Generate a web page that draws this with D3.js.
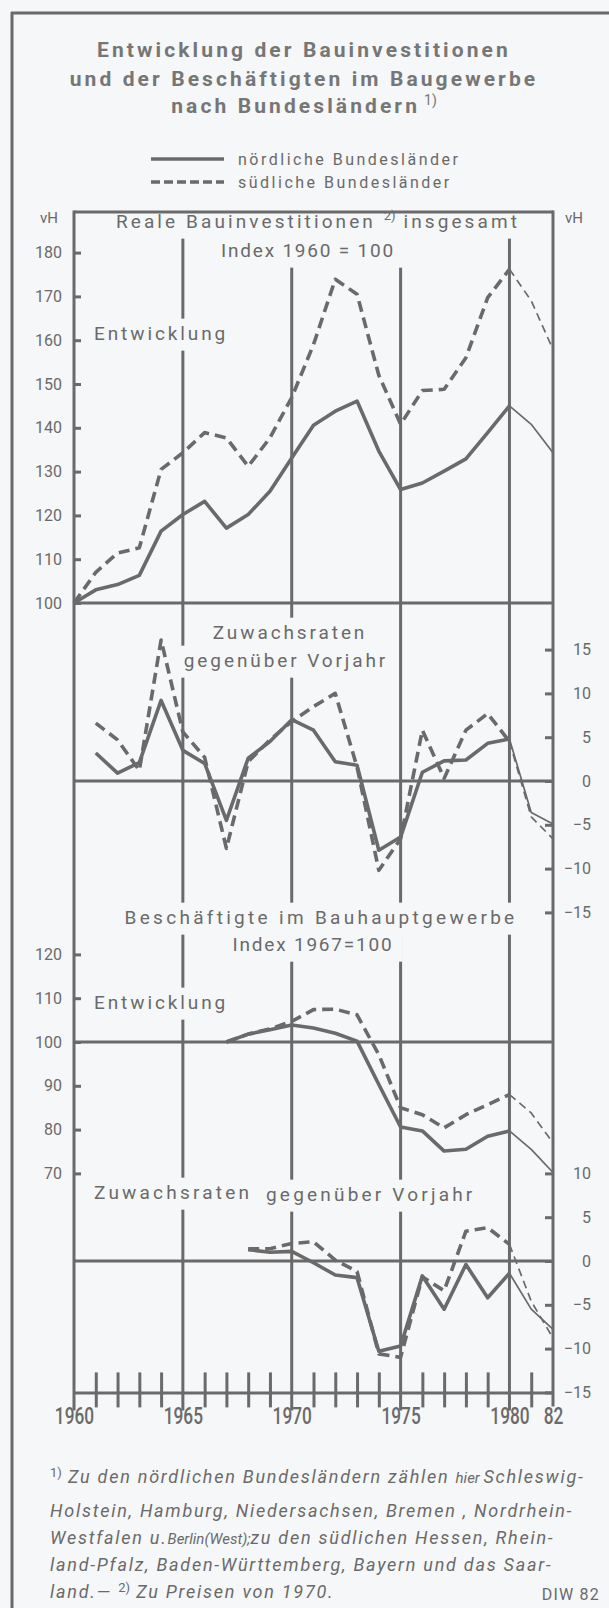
<!DOCTYPE html>
<html>
<head>
<meta charset="utf-8">
<script src="https://cdn.jsdelivr.net/npm/d3@7"></script>
<style>
body { margin: 0; background: #f6f7f8; }
svg { display: block; }
text { fill: #6a6a6a; font-family: Roboto, "Liberation Sans", sans-serif; }
</style>
</head>
<body>
<svg></svg>
<script>
// Reale Bauinvestitionen, Index 1960 = 100
var invYears = [1960, 1961, 1962, 1963, 1964, 1965, 1966, 1967, 1968, 1969, 1970, 1971,
                1972, 1973, 1974, 1975, 1976, 1977, 1978, 1979, 1980, 1981, 1982]
var invNord = [100, 103.0, 104.2, 106.3, 116.4, 120.2, 123.2, 117.1, 120.2, 125.5, 133.1, 140.6,
               143.8, 146.1, 134.7, 125.9, 127.4, 130.1, 132.9, 138.9, 145.0, 140.8, 134.3]
var invSued = [100, 107.0, 111.4, 112.6, 130.5, 134.3, 138.9, 137.7, 131.2, 137.7, 146.9, 159.0,
               173.9, 170.5, 152.0, 140.8, 148.5, 148.8, 156.0, 169.7, 176.2, 169.0, 157.9]

// Zuwachsraten gegenueber Vorjahr (Bauinvestitionen)
var invZuwYears = [1961, 1962, 1963, 1964, 1965, 1966, 1967, 1968, 1969, 1970, 1971,
                   1972, 1973, 1974, 1975, 1976, 1977, 1978, 1979, 1980, 1981, 1982]
var invZuwNord = [3.2, 0.9, 2.1, 9.2, 3.5, 2.0, -4.5, 2.6, 4.5, 7.0, 5.8,
                  2.2, 1.8, -7.9, -6.4, 1.0, 2.3, 2.4, 4.3, 4.8, -3.6, -4.9]
var invZuwSued = [6.6, 4.7, 1.2, 16.1, 5.6, 2.7, -7.7, 2.2, 4.7, 6.8, 8.5,
                  10.0, 1.6, -10.2, -6.6, 5.8, 0.3, 5.8, 7.7, 4.5, -4.1, -6.6]

// Beschaeftigte im Bauhauptgewerbe, Index 1967 = 100
var empYears = [1967, 1968, 1969, 1970, 1971, 1972, 1973, 1974, 1975, 1976, 1977, 1978, 1979, 1980, 1981, 1982]
var empNord = [100, 101.8, 102.8, 103.9, 103.2, 102.0, 100.2, 90.3, 80.6, 79.7, 75.1, 75.5, 78.5, 79.7, 75.5, 70.2]
var empSued = [100, 101.8, 103.0, 104.7, 107.4, 107.5, 106.2, 97.1, 85.0, 83.4, 80.4, 83.4, 85.7, 88.0, 83.8, 77.0]

// Zuwachsraten gegenueber Vorjahr (Beschaeftigte)
var empZuwYears = [1968, 1969, 1970, 1971, 1972, 1973, 1974, 1975, 1976, 1977, 1978, 1979, 1980, 1981, 1982]
var empZuwNord = [1.3, 1.0, 1.1, -0.2, -1.6, -1.9, -10.3, -9.7, -1.7, -5.5, -0.4, -4.2, -1.4, -5.5, -7.8]
var empZuwSued = [1.4, 1.4, 2.0, 2.2, 0.1, -1.2, -10.6, -11.0, -1.8, -3.4, 3.4, 3.8, 1.9, -4.6, -8.8]

// Achsen
var allYears = [1960, 1961, 1962, 1963, 1964, 1965, 1966, 1967, 1968, 1969, 1970, 1971,
                1972, 1973, 1974, 1975, 1976, 1977, 1978, 1979, 1980, 1981, 1982]
var gridYears = [1965, 1970, 1975, 1980]
var yearLabels = {1960: "1960", 1965: "1965", 1970: "1970", 1975: "1975", 1980: "1980", 1982: "82"}
var invTicks = [100, 110, 120, 130, 140, 150, 160, 170, 180]
var invZuwTicks = [-15, -10, -5, 0, 5, 10, 15]
var empTicks = [70, 80, 90, 100, 110, 120]
var empZuwTicks = [-15, -10, -5, 0, 5, 10]

var INK = "#6a6a6a", BG = "#f6f7f8"

document.addEventListener("DOMContentLoaded", function() { drawChart() })

function drawChart() {
    var svgWidth = 609, svgHeight = 1608
    var svg = d3.select("svg").attr("width", svgWidth).attr("height", svgHeight)
    var g = svg.append("g")

    var left = 74, right = 553, top = 212
    var step = 43.8   // Abstand zwischen zwei Teilstrichen

    var x = d3.scaleLinear().domain([1960, 1982]).range([left, right])
    var yInv = d3.scaleLinear().domain([100, 180]).range([603, 603 - 8 * step])
    var yInvZ = d3.scaleLinear().domain([-15, 15]).range([781 + 3 * step, 781 - 3 * step])
    var yEmp = d3.scaleLinear().domain([70, 120]).range([1042 + 3 * step, 1042 - 2 * step])
    var yEmpZ = d3.scaleLinear().domain([-15, 10]).range([yEmp(70) + 5 * step, yEmp(70)])
    var bottom = yEmpZ(-15)

    // Rahmen
    g.append("line").attr("x1", 12).attr("x2", 12).attr("y1", 12).attr("y2", svgHeight)
        .attr("stroke", INK).attr("stroke-width", 3)
    g.append("line").attr("x1", 11).attr("x2", svgWidth).attr("y1", 13).attr("y2", 13)
        .attr("stroke", INK).attr("stroke-width", 3)

    // Titel
    var titleLines = ["Entwicklung der Bauinvestitionen", "und der Beschäftigten im Baugewerbe", "nach Bundesländern"]
    var titleY = [49, 78, 105]
    titleLines.forEach(function(t, i) {
        var tx = g.append("text")
            .attr("x", 304).attr("y", titleY[i]).attr("dy", "0.36em")
            .attr("text-anchor", "middle")
            .attr("font-family", "'Liberation Sans', Arial, sans-serif")
            .attr("font-weight", "bold").attr("font-size", 21)
            .attr("letter-spacing", 3.1)
            .style("fill", "#767676")
            .text(t)
        if (i == 2) {
            tx.append("tspan").attr("font-size", 14).attr("font-weight", "normal")
                .attr("letter-spacing", 0).attr("dy", -8).attr("dx", 4).text("1)")
        }
    })

    // Legende
    var legend = [{label: "nördliche Bundesländer", dash: null, y: 159},
                  {label: "südliche Bundesländer", dash: "9,4", y: 182}]
    legend.forEach(function(l) {
        g.append("line").attr("x1", 151).attr("x2", 224).attr("y1", l.y).attr("y2", l.y)
            .attr("stroke", INK).attr("stroke-width", 3.5)
            .attr("stroke-dasharray", l.dash)
        g.append("text").attr("x", 238).attr("y", l.y).attr("dy", "0.35em")
            .attr("font-size", 16).attr("letter-spacing", 2.5)
            .text(l.label)
    })

    // Gitterlinien
    var grid = g.append("g").attr("stroke", INK).attr("stroke-width", 3)
    gridYears.forEach(function(yr) {
        grid.append("line").attr("x1", x(yr)).attr("x2", x(yr)).attr("y1", top).attr("y2", bottom + 18)
    })
    var hlines = [yInv(100), yInvZ(0), yEmp(100), yEmpZ(0)]
    hlines.forEach(function(hy) {
        grid.append("line").attr("x1", left).attr("x2", right).attr("y1", hy).attr("y2", hy)
    })

    // Ueberschriften mit Hintergrund (unterbrechen die Gitterlinien)
    function heading(cx, cy, parts, anchor, spacing) {
        var hg = g.append("g")
        var t = hg.append("text").attr("x", cx).attr("y", cy).attr("dy", "0.35em")
            .attr("text-anchor", anchor || "middle")
            .attr("font-size", 19).attr("letter-spacing", spacing == null ? 2.9 : spacing)
        parts.forEach(function(p) {
            if (p.sup) {
                t.append("tspan").attr("font-size", 13).attr("letter-spacing", 0).attr("dy", -8).text(p.sup)
                t.append("tspan").attr("dy", 8).text(" ")
            } else {
                t.append("tspan").text(p.t)
            }
        })
        var bb = t.node().getBBox()
        hg.insert("rect", "text").attr("x", bb.x - 7).attr("y", bb.y - 3)
            .attr("width", bb.width + 16).attr("height", bb.height + 9).attr("fill", BG)
    }
    heading(318, 221, [{t: "Reale Bauinvestitionen "}, {sup: "2)"}, {t: "insgesamt"}], "middle", 3.1)
    heading(308, 250, [{t: "Index 1960 = 100"}], "middle", 1.8)
    heading(94, 333, [{t: "Entwicklung"}], "start")
    heading(290, 632, [{t: "Zuwachsraten"}])
    heading(286, 660, [{t: "gegenüber Vorjahr"}])
    heading(321, 917, [{t: "Beschäftigte im Bauhauptgewerbe"}], "middle", 3.3)
    heading(313, 944, [{t: "Index 1967=100"}], "middle", 1.8)
    heading(94, 1002, [{t: "Entwicklung"}], "start")
    heading(94, 1192, [{t: "Zuwachsraten"}], "start", 3.2)
    heading(266, 1194, [{t: "gegenüber Vorjahr"}], "start", 3.2)

    // Kasten und Hauptachsen
    var frame = g.append("g").attr("stroke", INK).attr("stroke-width", 3)
    frame.append("line").attr("x1", left).attr("x2", right).attr("y1", top).attr("y2", top)
    frame.append("line").attr("x1", left).attr("x2", left).attr("y1", top - 1.5).attr("y2", bottom + 18)
    frame.append("line").attr("x1", right).attr("x2", right).attr("y1", top - 1.5).attr("y2", bottom + 14)

    // Y-Achsen (Teilstriche nach innen)
    function styleAxis(ax) {
        ax.attr("font-family", null).attr("font-size", 16).attr("color", INK)
        ax.select(".domain").remove()
        ax.selectAll(".tick line").attr("stroke-width", 3)
    }
    g.append("g").attr("transform", "translate(" + left + ",0)")
        .call(d3.axisLeft(yInv).tickValues(invTicks).tickSize(-7).tickPadding(12))
        .call(styleAxis)
    g.append("g").attr("transform", "translate(" + left + ",0)")
        .call(d3.axisLeft(yEmp).tickValues(empTicks).tickSize(-7).tickPadding(12))
        .call(styleAxis)
    g.append("g").attr("transform", "translate(" + right + ",0)")
        .call(d3.axisRight(yInvZ).tickValues(invZuwTicks).tickSize(-8))
        .call(styleAxis)
        .selectAll("text").attr("text-anchor", "end").attr("x", 38)
    g.append("g").attr("transform", "translate(" + right + ",0)")
        .call(d3.axisRight(yEmpZ).tickValues(empZuwTicks).tickSize(-8))
        .call(styleAxis)
        .selectAll("text").attr("text-anchor", "end").attr("x", 38)

    // X-Achse
    var xAxis = g.append("g").attr("transform", "translate(0," + bottom + ")")
        .call(d3.axisBottom(x).tickValues(allYears).tickSize(15).tickSizeOuter(0)
            .tickFormat(function(d) { return yearLabels[d] || "" }))
    xAxis.attr("font-family", null).attr("font-size", 24).attr("color", INK)
    xAxis.select(".domain").attr("stroke-width", 3)
    xAxis.selectAll(".tick line").attr("y1", -20).attr("stroke-width", 3)
        .filter(function(d) { return gridYears.indexOf(d) >= 0 || d == 1960 || d == 1982 }).remove()
    xAxis.selectAll(".tick text").attr("y", 0).attr("dy", "1.31em")
        .attr("font-weight", 500).attr("transform", "scale(0.72,1)")

    // vH
    g.append("text").attr("x", 49).attr("y", 218).attr("dy", "0.35em").attr("text-anchor", "middle")
        .attr("font-size", 15).text("vH")
    g.append("text").attr("x", 574).attr("y", 218).attr("dy", "0.35em").attr("text-anchor", "middle")
        .attr("font-size", 15).text("vH")

    // Datenlinien (ab 1980 duenn)
    function drawSeries(yrs, vals, yScale, dashed) {
        var pts = yrs.map(function(yr, i) { return {yr: yr, v: vals[i]} })
        var line = d3.line()
            .x(function(d) { return x(d.yr) })
            .y(function(d) { return yScale(d.v) })
        g.append("path").datum(pts.filter(function(d) { return d.yr <= 1980 }))
            .attr("fill", "none").attr("stroke", INK)
            .attr("stroke-width", 3.6).attr("stroke-linejoin", "round")
            .attr("stroke-dasharray", dashed ? "11,6" : null)
            .attr("d", line)
        g.append("path").datum(pts.filter(function(d) { return d.yr >= 1980 }))
            .attr("fill", "none").attr("stroke", INK)
            .attr("stroke-width", 1.7).attr("stroke-linejoin", "round")
            .attr("stroke-dasharray", dashed ? "8,5" : null)
            .attr("d", line)
    }
    drawSeries(invYears, invSued, yInv, true)
    drawSeries(invYears, invNord, yInv, false)
    drawSeries(invZuwYears, invZuwSued, yInvZ, true)
    drawSeries(invZuwYears, invZuwNord, yInvZ, false)
    drawSeries(empYears, empSued, yEmp, true)
    drawSeries(empYears, empNord, yEmp, false)
    drawSeries(empZuwYears, empZuwSued, yEmpZ, true)
    drawSeries(empZuwYears, empZuwNord, yEmpZ, false)

    // Fussnoten
    var fx = 50
    var noteY = [1483, 1510.5, 1538, 1565, 1592]
    var notes = g.append("g").attr("font-style", "italic").attr("font-size", 18).attr("letter-spacing", 1.75)
    var n1 = notes.append("text").attr("x", fx).attr("y", noteY[0]).attr("dy", "0.35em")
    n1.append("tspan").attr("font-style", "normal").attr("font-size", 13).attr("letter-spacing", 0)
        .attr("dy", -6).text("1)")
    n1.append("tspan").attr("dy", 6).text(" Zu den nördlichen Bundesländern zählen ")
    n1.append("tspan").attr("font-size", 15).attr("letter-spacing", 0).text("hier ")
    n1.append("tspan").text("Schleswig-")
    notes.append("text").attr("x", fx).attr("y", noteY[1]).attr("dy", "0.35em")
        .text("Holstein, Hamburg, Niedersachsen, Bremen , Nordrhein-")
    var n3 = notes.append("text").attr("x", fx).attr("y", noteY[2]).attr("dy", "0.35em")
    n3.append("tspan").text("Westfalen u.")
    n3.append("tspan").attr("font-size", 15).attr("letter-spacing", 0).text("Berlin(West);")
    n3.append("tspan").text("zu den südlichen Hessen, Rhein-")
    notes.append("text").attr("x", fx).attr("y", noteY[3]).attr("dy", "0.35em")
        .text("land-Pfalz, Baden-Württemberg, Bayern und das Saar-")
    var n5 = notes.append("text").attr("x", fx).attr("y", noteY[4]).attr("dy", "0.35em")
    n5.append("tspan").text("land.— ")
    n5.append("tspan").attr("font-style", "normal").attr("font-size", 13).attr("letter-spacing", 0)
        .attr("dy", -6).text("2)")
    n5.append("tspan").attr("dy", 6).text(" Zu Preisen von 1970.")
    g.append("text").attr("x", 600).attr("y", 1594).attr("dy", "0.35em").attr("text-anchor", "end")
        .attr("font-size", 16).attr("letter-spacing", 1.2).text("DIW 82")
}
</script>
</body>
</html>
